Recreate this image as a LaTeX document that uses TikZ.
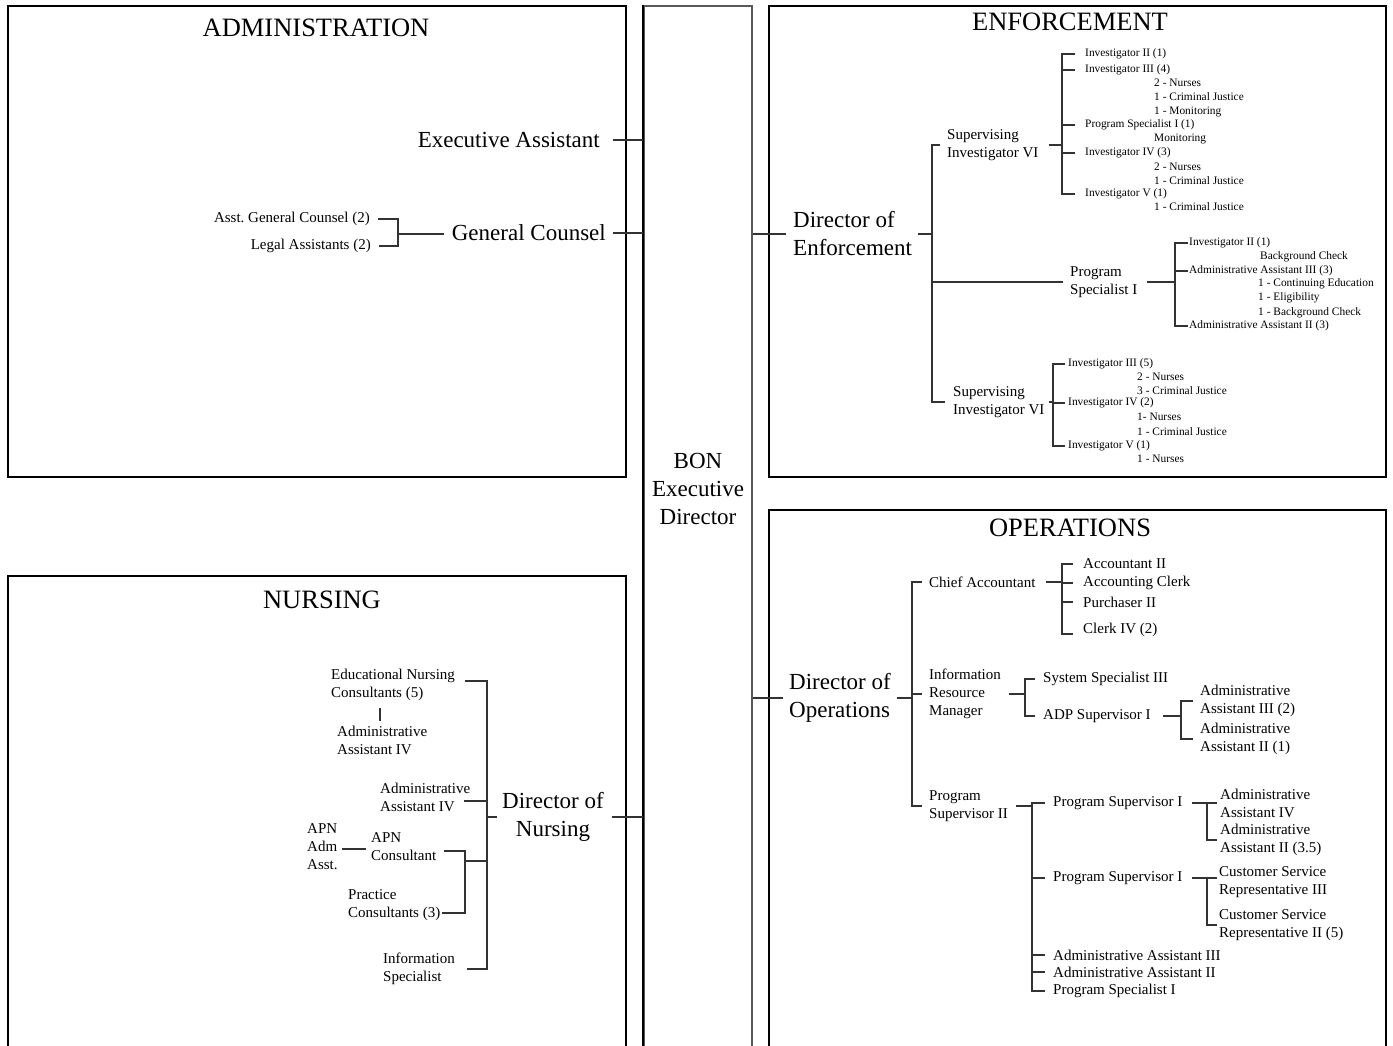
\documentclass[tikz,border=0pt]{standalone}
\usepackage{fontspec}
\setmainfont{Liberation Serif}
\usepackage{tikz}

\begin{document}
\begin{tikzpicture}[x=1pt,y=-1pt,
	panel/.style={draw=black, line width=1.8pt},
	link/.style={draw=black!80, line width=1.3pt},
	title/.style={font=\fontsize{26.5}{30}\selectfont, inner sep=0pt},
	big/.style={font=\fontsize{23}{28}\selectfont, inner sep=0pt, align=left},
	mid/.style={font=\fontsize{15}{18}\selectfont, inner sep=0pt, align=left},
	tiny/.style={font=\fontsize{11.4}{13.7}\selectfont, inner sep=0pt, align=left}]

	\useasboundingbox (0,0) rectangle (1393,1045);

	% frames
	\draw[panel] (8,6) rectangle (626,477);
	\draw[panel] (769,6) rectangle (1386,477);
	\draw[panel] (8,1050) |- (626,576) -- (626,1050);
	\draw[panel] (769,1050) |- (1386,510) -- (1386,1050);

	\node[draw=black!65, line width=1.8pt, minimum width=108pt, minimum height=1050pt,
		anchor=north, inner sep=0pt] (bon) at (698,5) {};
	\draw[panel] (bon.south west) -- (bon.north west);
	\node[big, align=center] (bontxt) at (698,489) {BON\\Executive\\Director};

	% administration
	\node[title] (admtitle) at (316,28) {ADMINISTRATION};
	\node[big, anchor=east] (ea) at (600,140) {Executive Assistant};
	\node[big, anchor=east] (gc) at (606,233) {General Counsel};
	\node[mid, anchor=east] (agc) at (370,219) {Asst.\ General Counsel (2)};
	\node[mid, anchor=east] (la) at (371,246) {Legal Assistants (2)};
	\coordinate (gcb) at (398,234);
	\draw[link] ([xshift=13pt]ea.east) -- (ea.east -| bon.west);
	\draw[link] ([xshift=7pt]gc.east) -- (gc.east -| bon.west);
	\draw[link] ([xshift=8pt]agc.east) -| (gcb) |- ([xshift=8pt]la.east);
	\draw[link] (gcb) -- ([xshift=-8pt]gc.west |- gcb);

	% enforcement
	\node[title] (enftitle) at (1070,22) {ENFORCEMENT};
	\node[big, anchor=west] (doe) at (793,234) {Director of\\Enforcement};
	\coordinate (es) at (932,236);
	\node[mid, anchor=west] (si1) at (947,145) {Supervising\\Investigator VI};
	\node[mid, anchor=west] (ps1) at (1070,282) {Program\\Specialist I};
	\node[mid, anchor=west] (si2) at (953,402) {Supervising\\Investigator VI};
	\draw[link] (bon.east |- doe.west) -- ([xshift=-7pt]doe.west);
	\draw[link] ([xshift=6pt]doe.east) -- (doe.east -| es);
	\draw[link] ([xshift=-7pt]si1.west) -| (es) |- ([xshift=-8pt]si2.west);
	\draw[link] (ps1.west -| es) -- ([xshift=-7pt]ps1.west);

	\coordinate (b1) at (1062,145);
	\node[tiny, anchor=west] (inv2a) at (1085,54) {Investigator II (1)};
	\node[tiny, anchor=west] (inv3a) at (1085,70) {Investigator III (4)};
	\node[tiny, anchor=west] (inv3anote) at (1154,98) {2 - Nurses\\1 - Criminal Justice\\1 - Monitoring};
	\node[tiny, anchor=west] (psa) at (1085,125) {Program Specialist I (1)};
	\node[tiny, anchor=west] (psanote) at (1154,139) {Monitoring};
	\node[tiny, anchor=west] (inv4a) at (1085,153) {Investigator IV (3)};
	\node[tiny, anchor=west] (inv4anote) at (1154,173.5) {2 - Nurses\\1 - Criminal Justice};
	\node[tiny, anchor=west] (inv5a) at (1085,194) {Investigator V (1)};
	\node[tiny, anchor=west] (inv5anote) at (1154,207) {1 - Criminal Justice};
	\draw[link] ([xshift=10pt]si1.east) -- (si1.east -| b1);
	\draw[link] ([xshift=-10pt]inv2a.west) -| (b1) |- ([xshift=-10pt]inv5a.west);
	\foreach \n in {inv3a,psa,inv4a}
		\draw[link] (\n.west -| b1) -- ([xshift=-10pt]\n.west);

	\coordinate (b2) at (1175,282);
	\node[tiny, anchor=west] (inv2b) at (1189,243) {Investigator II (1)};
	\node[tiny, anchor=west] (inv2bnote) at (1260,257) {Background Check};
	\node[tiny, anchor=west] (aa3b) at (1189,271) {Administrative Assistant III (3)};
	\node[tiny, anchor=west, font=\fontsize{11.4}{14.5}\selectfont] (aa3bnote) at (1258,298)
		{1 - Continuing Education\\1 - Eligibility\\1 - Background Check};
	\node[tiny, anchor=west] (aa2b) at (1189,326) {Administrative Assistant II (3)};
	\draw[link] ([xshift=10pt]ps1.east) -- (ps1.east -| b2);
	\draw[link] ([xshift=-1pt]inv2b.west) -| (b2) |- ([xshift=-1pt]aa2b.west);
	\draw[link] (aa3b.west -| b2) -- ([xshift=-1pt]aa3b.west);

	\coordinate (b3) at (1053,402);
	\node[tiny, anchor=west] (inv3c) at (1068,364) {Investigator III (5)};
	\node[tiny, anchor=west] (inv3cnote) at (1137,383.5) {2 - Nurses\\3 - Criminal Justice};
	\node[tiny, anchor=west] (inv4c) at (1068,403) {Investigator IV (2)};
	\node[tiny, anchor=west, font=\fontsize{11.4}{15}\selectfont] (inv4cnote) at (1137,424.5) {1- Nurses\\1 - Criminal Justice};
	\node[tiny, anchor=west] (inv5c) at (1068,446) {Investigator V (1)};
	\node[tiny, anchor=west] (inv5cnote) at (1137,459) {1 - Nurses};
	\draw[link] ([xshift=4pt]si2.east) -- (si2.east -| b3);
	\draw[link] ([xshift=-3pt]inv3c.west) -| (b3) |- ([xshift=-3pt]inv5c.west);
	\draw[link] (inv4c.west -| b3) -- ([xshift=-3pt]inv4c.west);

	% operations
	\node[title] (optitle) at (1070,528) {OPERATIONS};
	\node[big, anchor=west] (doo) at (789,698) {Director of\\Operations};
	\coordinate (os) at (912,697);
	\node[mid, anchor=west] (ca) at (929,582) {Chief Accountant};
	\node[mid, anchor=west] (irm) at (929,694) {Information\\Resource\\Manager};
	\node[mid, anchor=west] (ps2) at (929,806) {Program\\Supervisor II};
	\draw[link] (bon.east |- doo.west) -- ([xshift=-6pt]doo.west);
	\draw[link] ([xshift=6pt]doo.east) -- (doo.east -| os);
	\draw[link] ([xshift=-7pt]ca.west) -| (os) |- ([xshift=-7pt]ps2.west);
	\draw[link] (irm.west -| os) -- ([xshift=-7pt]irm.west);

	\coordinate (b4) at (1062,583);
	\node[mid, anchor=west] (acc) at (1083,564) {Accountant II};
	\node[mid, anchor=west] (acl) at (1083,583) {Accounting Clerk};
	\node[mid, anchor=west] (pur) at (1083,602) {Purchaser II};
	\node[mid, anchor=west] (clk) at (1083,630) {Clerk IV (2)};
	\draw[link] ([xshift=10pt]ca.east) -- (ca.east -| b4);
	\draw[link] ([xshift=-10pt]acc.west) -| (b4) |- ([xshift=-10pt,yshift=-4pt]clk.west);
	\foreach \n in {acl,pur}
		\draw[link] (\n.west -| b4) -- ([xshift=-10pt]\n.west);

	\coordinate (b5) at (1025,697);
	\node[mid, anchor=west] (ss3) at (1043,679) {System Specialist III};
	\node[mid, anchor=west] (adp) at (1043,716) {ADP Supervisor I};
	\draw[link] ([xshift=8pt]irm.east) -- (irm.east -| b5);
	\draw[link] ([xshift=-8pt]ss3.west) -| (b5) |- ([xshift=-8pt]adp.west);

	\coordinate (b6) at (1181,716);
	\node[mid, anchor=west] (aa3o) at (1200,701) {Administrative\\Assistant III (2)};
	\node[mid, anchor=west] (aa2o) at (1200,739) {Administrative\\Assistant II (1)};
	\draw[link] ([xshift=12pt]adp.east) -- (adp.east -| b6);
	\draw[link] ([xshift=-7pt]aa3o.west) -| (b6) |- ([xshift=-7pt]aa2o.west);

	\coordinate (b7) at (1032,880);
	\node[mid, anchor=west] (psu1) at (1053,803) {Program Supervisor I};
	\node[mid, anchor=west] (psu2) at (1053,878) {Program Supervisor I};
	\node[mid, anchor=west] (aa3p) at (1053,955) {Administrative Assistant III};
	\node[mid, anchor=west] (aa2p) at (1053,972) {Administrative Assistant II};
	\node[mid, anchor=west] (psp) at (1053,991) {Program Specialist I};
	\draw[link] ([xshift=8pt]ps2.east) -- (ps2.east -| b7);
	\draw[link] ([xshift=-8pt]psu1.west) -| (b7) |- ([xshift=-8pt]psp.west);
	\foreach \n in {psu2,aa3p,aa2p}
		\draw[link] (\n.west -| b7) -- ([xshift=-8pt]\n.west);

	\coordinate (b8) at (1207,820);
	\node[mid, anchor=west] (aa4q) at (1220,803) {Administrative\\Assistant IV};
	\node[mid, anchor=west] (aa2q) at (1220,840) {Administrative\\Assistant II (3.5)};
	\draw[link] ([xshift=9pt]psu1.east) -- (psu1.east -| b8);
	\draw[link] ([xshift=-3pt]aa4q.west) -| (b8) |- ([xshift=-3pt]aa2q.west);

	\coordinate (b9) at (1207,900);
	\node[mid, anchor=west] (csr3) at (1219,882) {Customer Service\\Representative III};
	\node[mid, anchor=west] (csr2) at (1219,925) {Customer Service\\Representative II (5)};
	\draw[link] ([xshift=9pt]psu2.east) -- ([xshift=-2pt]psu2.east -| csr3.west);
	\draw[link] (psu2.east -| b9) |- ([xshift=-2pt]csr2.west);

	% nursing
	\node[title] (nurtitle) at (322,600) {NURSING};
	\node[big, align=center] (don) at (553,817) {Director of\\Nursing};
	\coordinate (ns) at (487,815);
	\node[mid, anchor=west] (enc) at (331,685) {Educational Nursing\\Consultants (5)};
	\node[mid, anchor=west] (aa4e) at (337,740) {Administrative\\Assistant IV};
	\node[mid, anchor=west] (aa4n) at (380,797) {Administrative\\Assistant IV};
	\node[mid, anchor=west] (apnadm) at (307,847) {APN\\Adm\\Asst.};
	\node[mid, anchor=west] (apn) at (371,847) {APN\\Consultant};
	\node[mid, anchor=west] (pc) at (348,905) {Practice\\Consultants (3)};
	\node[mid, anchor=west] (info) at (383,969) {Information\\Specialist};
	\coordinate (nb) at (465,861);
	\coordinate (aa4nt) at ([xshift=-6pt,yshift=-4pt]aa4n.east);
	\draw[link] ([xshift=8pt]don.east) -- (don.east -| bon.west);
	\draw[link] ([xshift=-5pt]don.west) -- (don.west -| ns);
	\draw[link] ([xshift=10pt,yshift=4pt]enc.east) -| (ns) |- ([xshift=12pt]info.east);
	\draw[link] ([xshift=49pt,yshift=-7pt]enc.south west) -- ([xshift=43pt,yshift=4pt]aa4e.north west);
	\draw[link] (aa4nt) -- (aa4nt -| ns);
	\draw[link] ([xshift=8pt,yshift=-4pt]apn.east) -| (nb) |- ([xshift=2pt,yshift=-8pt]pc.east);
	\draw[link] (nb) -- (nb -| ns);
	\draw[link] ([xshift=4pt,yshift=-2pt]apnadm.east) -- ([xshift=-5pt,yshift=-2pt]apnadm.east -| apn.west);
\end{tikzpicture}
\end{document}
